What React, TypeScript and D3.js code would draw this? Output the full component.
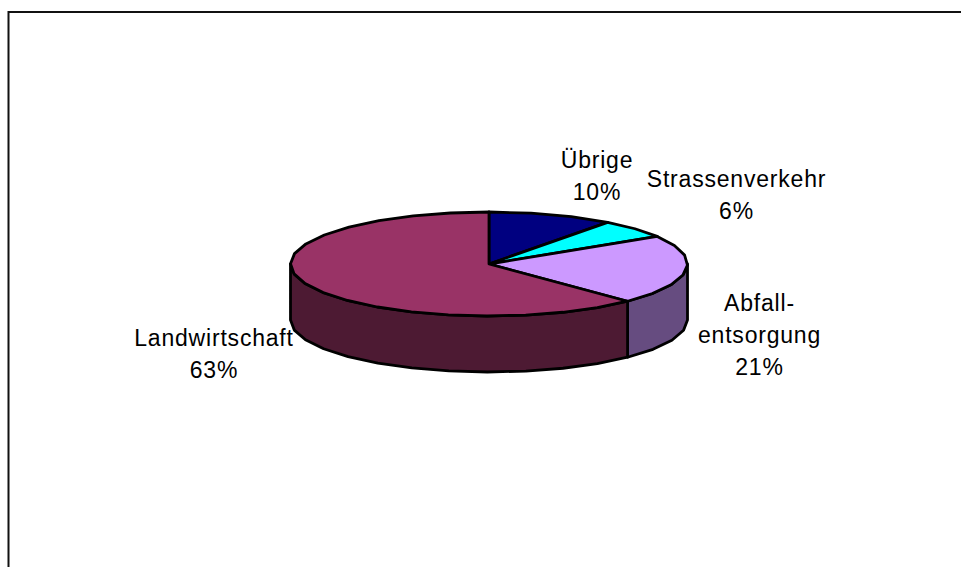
import React from "react";
import * as d3 from "d3";

const categories = ["Übrige", "Strassenverkehr", "Abfallentsorgung", "Landwirtschaft"];
const shares = [10.2, 5.9, 21.6, 62.3];
const shareLabels = ["10%", "6%", "21%", "63%"];
const topColours = ["#000080", "#00ffff", "#cc99ff", "#993366"];
const sideColours = ["#000040", "#008080", "#664c80", "#4d1a33"];
const labelLines = [["Übrige"], ["Strassenverkehr"], ["Abfall-", "entsorgung"], ["Landwirtschaft"]];
const labelAnchors = [[597, 167.5], [736.5, 187], [759.5, 310.5], [214, 346]];

const cx = 489, cy = 264, rx = 198.5, ry = 52, depth = 56;
const angle = d3.scaleLinear().domain([0, d3.sum(shares)]).range([0, 2 * Math.PI]);
const px = (a: number) => cx + rx * Math.sin(a);
const py = (a: number) => cy - ry * Math.cos(a);
const STEP = (11 * Math.PI) / 180;

function arcPoints(a0: number, a1: number): number[] {
  const n = Math.max(1, Math.round((a1 - a0) / STEP));
  return d3.range(n + 1).map((i) => a0 + ((a1 - a0) * i) / n);
}

export default function App() {
  let acc = 0;
  const slices = shares.map((v, i) => {
    const a0 = angle(acc);
    acc += v;
    return { i, a0, a1: angle(acc), v };
  });
  const line = d3.line<[number, number]>();
  return (
    <svg width={961} height={567} style={{ position: "absolute", left: 0, top: 0 }}>
      <path d={line([[8.5, 567], [8.5, 12], [961, 12]]) ?? ""} fill="none" stroke="#111" strokeWidth={2} />
      {slices.map((s) => {
        const lo = Math.max(s.a0, Math.PI / 2);
        const hi = Math.min(s.a1, (3 * Math.PI) / 2);
        if (hi <= lo) return null;
        const pts = arcPoints(lo, hi);
        const top = pts.map((a) => [px(a), py(a)] as [number, number]);
        const bottom = pts.slice().reverse().map((a) => [px(a), py(a) + depth] as [number, number]);
        return (
          <path key={"side" + s.i} d={(line([...top, ...bottom]) ?? "") + "Z"} fill={sideColours[s.i]}
            stroke="#000" strokeWidth={2.8} strokeLinejoin="round" />
        );
      })}
      {slices.map((s) => {
        const pts = arcPoints(s.a0, s.a1).map((a) => [px(a), py(a)] as [number, number]);
        return (
          <path key={"top" + s.i} d={(line([[cx, cy], ...pts]) ?? "") + "Z"} fill={topColours[s.i]}
            stroke="#000" strokeWidth={2.8} strokeLinejoin="round" />
        );
      })}
      {categories.map((c, i) => {
        const [x, y] = labelAnchors[i];
        const lines = [...labelLines[i], shareLabels[i]];
        return (
          <text key={c} x={x} y={y} textAnchor="middle" fontFamily="Liberation Sans, Arial, sans-serif"
            fontSize={23} letterSpacing={0.8} fill="#000">
            {lines.map((t, k) => (
              <tspan key={k} x={x} y={y + k * 32.3}>{t}</tspan>
            ))}
          </text>
        );
      })}
    </svg>
  );
}
